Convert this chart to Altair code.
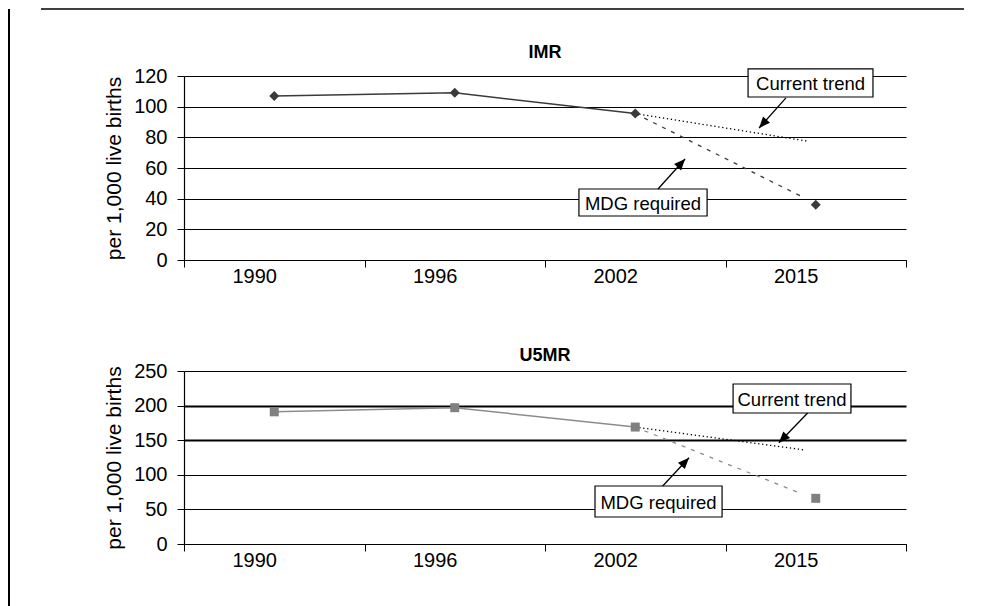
import math
import altair as alt
import pandas as pd

FONT = "Liberation Sans"

# ---- data ----
years = ["1990", "1996", "2002", "2015"]
year_pos = [0.5, 1.5, 2.5, 3.5]          # centre of each year's band on the x axis

imr = [107, 109, 95.5, 36]
u5mr = [191, 197, 169, 66]
n_observed = 3                            # 1990-2002 joined by the solid line; 2015 is the target point

# projections starting from 2002
imr_current_end = 77.6
imr_mdg_end = 40.6
u5mr_current_end = 136
u5mr_mdg_end = 72.7
imr_trend_end_pos = [3.45, 3.435]         # current trend, MDG required
u5mr_trend_end_pos = [3.435, 3.42]

# annotation boxes (data space): pos, pos2, value, value2
imr_boxes = {"label": ["Current trend", "MDG required"],
             "pos": [3.125, 2.188], "pos2": [3.817, 2.898],
             "value": [124.6, 46.3], "value2": [106.3, 28.7]}
u5mr_boxes = {"label": ["Current trend", "MDG required"],
              "pos": [3.042, 2.277], "pos2": [3.695, 2.981],
              "value": [231.2, 83.8], "value2": [189.3, 39.0]}
# arrows: from (pos, value) to (pos2, value2)
imr_arrows = {"pos": [3.335, 2.626], "value": [105.7, 46.3],
              "pos2": [3.186, 2.776], "value2": [86.1, 65.9]}
u5mr_arrows = {"pos": [3.455, 2.652], "value": [189.3, 83.8],
               "pos2": [3.296, 2.798], "value2": [146.4, 124.7]}

imr_ticks = [0, 20, 40, 60, 80, 100, 120]
u5mr_ticks = [0, 50, 100, 150, 200, 250]

W = 722
YTITLE = "per 1,000 live births"
ARROW = "M0,0L0.42,1L-0.42,1Z"


def panel(title, title_y, values, cur_end, mdg_end, end_pos, ticks, height,
          line_color, marker_color, shape, msize, mdg_color, boxes, arrows,
          with_frame, thick_grid):
    ymax = ticks[-1]
    label_arr = "[" + ",".join("'" + y + "'" for y in years) + "]"
    xaxis = alt.Axis(values=[0, 0.5, 1, 1.5, 2, 2.5, 3, 3.5, 4],
                     labelExpr="datum.value % 1 == 0 ? '' : " + label_arr + "[floor(datum.value)]",
                     tickOpacity={"condition": {"test": "datum.value % 1 != 0", "value": 0}, "value": 1},
                     grid=False, labelOverlap=False, labelFlush=False,
                     tickSize=7, labelPadding=-1, labelOffset=-20)
    if thick_grid:
        gw = {"condition": {"test": " || ".join("datum.value == " + str(t) for t in thick_grid),
                            "value": 2}, "value": 1}
    else:
        gw = 1
    yaxis = alt.Axis(values=ticks, grid=True, gridColor="black", gridWidth=gw,
                     tickSize=7, labelPadding=10, titlePadding=9)
    xs = alt.Scale(domain=[0, 4], nice=False, zero=False)
    ys = alt.Scale(domain=[0, ymax], nice=False)
    X = alt.X("pos:Q", scale=xs, axis=xaxis, title=None)
    Y = alt.Y("value:Q", scale=ys, axis=yaxis, title=YTITLE)
    X2 = alt.X2("pos2:Q")
    Y2 = alt.Y2("value2:Q")

    df = pd.DataFrame({"pos": year_pos, "year": years, "value": values})
    line = alt.Chart(df.iloc[:n_observed]).mark_line(color=line_color, strokeWidth=1.5).encode(x=X, y=Y)
    pts = alt.Chart(df).mark_point(shape=shape, filled=True, size=msize,
                                   color=marker_color, opacity=1).encode(x=X, y=Y)

    cur = pd.DataFrame({"pos": [year_pos[2], end_pos[0]], "value": [values[2], cur_end]})
    mdg = pd.DataFrame({"pos": [year_pos[2], end_pos[1]], "value": [values[2], mdg_end]})
    cur_line = alt.Chart(cur).mark_line(color="black", strokeWidth=1.3,
                                        strokeDash=[1.3, 2.7]).encode(x=X, y=Y)
    mdg_line = alt.Chart(mdg).mark_line(color=mdg_color, strokeWidth=1.3,
                                        strokeDash=[4, 6]).encode(x=X, y=Y)

    bdf = pd.DataFrame(boxes)
    bdf["tpos"] = (bdf["pos"] + bdf["pos2"]) / 2
    bdf["tvalue"] = (bdf["value"] + bdf["value2"]) / 2
    rects = alt.Chart(bdf).mark_rect(fill="white", stroke="black", strokeWidth=1.2).encode(
        x=X, x2=X2, y=Y, y2=Y2)
    texts = alt.Chart(bdf).mark_text(font=FONT, fontSize=18.5, color="black",
                                     align="center", baseline="middle", dy=1).encode(
        x=alt.X("tpos:Q", scale=xs, axis=xaxis, title=None),
        y=alt.Y("tvalue:Q", scale=ys, axis=yaxis, title=YTITLE),
        text="label:N")

    adf = pd.DataFrame(arrows)
    dxp = (adf["pos2"] - adf["pos"]) * W / 4
    dyp = -(adf["value2"] - adf["value"]) * height / ymax
    adf["angle"] = [(math.degrees(math.atan2(a, -b)) + 360) % 360 for a, b in zip(dxp, dyp)]
    arr_lines = alt.Chart(adf).mark_rule(color="black", strokeWidth=1.3).encode(
        x=X, x2=X2, y=Y, y2=Y2)
    heads = alt.Chart(adf).mark_point(shape=ARROW, filled=True, size=500, color="black",
                                      opacity=1).encode(
        x=alt.X("pos2:Q", scale=xs, axis=xaxis, title=None),
        y=alt.Y("value2:Q", scale=ys, axis=yaxis, title=YTITLE),
        angle=alt.Angle("angle:Q", scale=None))

    dummy = pd.DataFrame({"a": [0]})
    title_mark = alt.Chart(dummy).mark_text(
        text=title, font=FONT, fontSize=18, fontWeight="bold", color="black",
        align="center", baseline="middle").encode(x=alt.value(W / 2), y=alt.value(title_y))

    layers = [line, cur_line, mdg_line, pts, rects, texts, arr_lines, heads, title_mark]
    if with_frame:
        # page frame: left border running down the whole page, rule across the top
        frame_left = alt.Chart(dummy).mark_rule(color="black", strokeWidth=2).encode(
            x=alt.value(-175), y=alt.value(-67), y2=alt.value(531))
        frame_top_rule = alt.Chart(dummy).mark_rule(color="black", strokeWidth=1.5).encode(
            x=alt.value(-143), x2=alt.value(780), y=alt.value(-67))
        layers += [frame_left, frame_top_rule]

    return alt.layer(*layers).properties(width=W, height=height)


p1 = panel("IMR", -23, imr, imr_current_end, imr_mdg_end, imr_trend_end_pos, imr_ticks, 184,
           "#3a3a3a", "#3a3a3a", "diamond", 100, "#3a3a3a", imr_boxes, imr_arrows,
           True, None)
p2 = panel("U5MR", -15, u5mr, u5mr_current_end, u5mr_mdg_end, u5mr_trend_end_pos, u5mr_ticks, 173,
           "#8c8c8c", "#808080", "square", 81, "#8c8c8c", u5mr_boxes, u5mr_arrows,
           False, [150, 200])

chart = alt.vconcat(p1, p2, spacing=111, bounds="flush").properties(padding=0).configure_view(
    stroke=None
).configure_axis(
    labelFont=FONT, titleFont=FONT, labelFontSize=20, titleFontSize=21,
    titleFontWeight="normal", labelColor="black", titleColor="black",
    domainColor="black", tickColor="black", domainWidth=1.2
)

chart.save("out.html", embed_options={"renderer": "svg", "actions": False})
